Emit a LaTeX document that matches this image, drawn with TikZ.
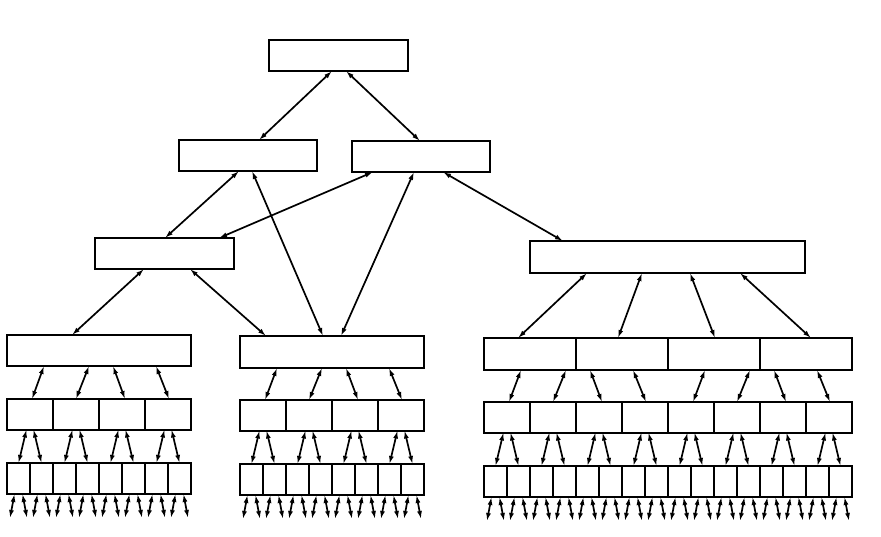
\documentclass[tikz,border=0pt]{standalone}
\usetikzlibrary{arrows.meta,calc}
\tikzset{
  cell/.style={draw, line width=2pt, rectangle, inner sep=0pt, outer sep=0pt,
    minimum width=#1, minimum height=31pt, anchor=north west},
  link/.style={<->, >={Latex[length=8pt,width=5pt]}, line width=1.7pt}
}
% #1 x0, #2 y of level-4 top, #3 prefix, #4 left level-4 node, #5 right level-4 node, #6 offset of right node
\newcommand\mygroup[6]{%
  \foreach \k in {0,...,3} {
    \node[cell=46pt, minimum height=30.5pt] (#3five\k) at ({#1+46*\k},{#2+64}) {};
  }
  \foreach \j in {0,...,7} {
    \node[cell=23pt] (#3six\j) at ({#1+23*\j},{#2+128}) {};
  }
  \draw[link] ([xshift=37pt]#4.south west) -- ([xshift=2pt]#3five0.north);
  \draw[link] ([xshift=82pt]#4.south west) -- ([xshift=0pt]#3five1.north);
  \draw[link] ([xshift={(106-#6)*1pt}]#5.south west) -- ([xshift=3pt]#3five2.north);
  \draw[link] ([xshift={(149-#6)*1pt}]#5.south west) -- ([xshift=1pt]#3five3.north);
  \foreach \k [evaluate=\k as \a using int(2*\k), evaluate=\k as \b using int(2*\k+1)] in {0,...,3} {
    \draw[link] ([xshift=-3.5pt]#3five\k.south) -- (#3six\a.north);
    \draw[link] ([xshift=3.5pt]#3five\k.south) -- (#3six\b.north);
  }
  \foreach \j in {0,...,7} {
    \draw[link] ([xshift=-4pt]#3six\j.south) -- ([xshift=-8.5pt,yshift=-24pt]#3six\j.south);
    \draw[link] ([xshift=4pt]#3six\j.south) -- ([xshift=8.5pt,yshift=-24pt]#3six\j.south);
  }
}
\begin{document}
\begin{tikzpicture}[x=1pt,y=-1pt]
\useasboundingbox (0,0) rectangle (881,536);
% upper boxes
\node[cell=139pt] (top) at (269,40) {};
\node[cell=138pt] (LtwoL) at (179,140) {};
\node[cell=138pt] (LtwoR) at (352,141) {};
\node[cell=139pt] (LthreeL) at (95,238) {};
\node[cell=275pt, minimum height=32pt] (LthreeR) at (530,241) {};
% level 4
\node[cell=184pt] (A4) at (7,335) {};
\node[cell=184pt, minimum height=32pt] (B4) at (240,336) {};
\foreach \c/\n in {0/C4a,1/C4b,2/C4c,3/C4d}
  \node[cell=92pt, minimum height=32pt] (\n) at ({484+92*\c},338) {};
% upper connectors
\draw[link] ([xshift=63pt]top.south west) -- ([xshift=80pt]LtwoL.north west);
\draw[link] ([xshift=77pt]top.south west) -- ([xshift=68pt]LtwoR.north west);
\draw[link] ([xshift=60pt]LtwoL.south west) -- ([xshift=70pt]LthreeL.north west);
\draw[link] ([xshift=73pt]LtwoL.south west) -- ([xshift=83pt]B4.north west);
\draw[link] ([xshift=21pt]LtwoR.south west) -- ([xshift=124pt]LthreeL.north west);
\draw[link] ([xshift=62pt]LtwoR.south west) -- ([xshift=101pt]B4.north west);
\draw[link] ([xshift=91pt]LtwoR.south west) -- ([xshift=33pt]LthreeR.north west);
\draw[link] ([xshift=49pt]LthreeL.south west) -- ([xshift=65pt]A4.north west);
\draw[link] ([xshift=95pt]LthreeL.south west) -- ([xshift=26pt]B4.north west);
\draw[link] ([xshift=57pt]LthreeR.south west) -- ([xshift=34pt]C4a.north west);
\draw[link] ([xshift=112pt]LthreeR.south west) -- ([xshift=42pt]C4b.north west);
\draw[link] ([xshift=160pt]LthreeR.south west) -- ([xshift=47pt]C4c.north west);
\draw[link] ([xshift=210pt]LthreeR.south west) -- ([xshift=51pt]C4d.north west);
% lower groups
\mygroup{7}{335}{A}{A4}{A4}{0}
\mygroup{240}{336}{B}{B4}{B4}{0}
\mygroup{484}{338}{Cl}{C4a}{C4b}{92}
\mygroup{668}{338}{Cr}{C4c}{C4d}{92}
\end{tikzpicture}
\end{document}
